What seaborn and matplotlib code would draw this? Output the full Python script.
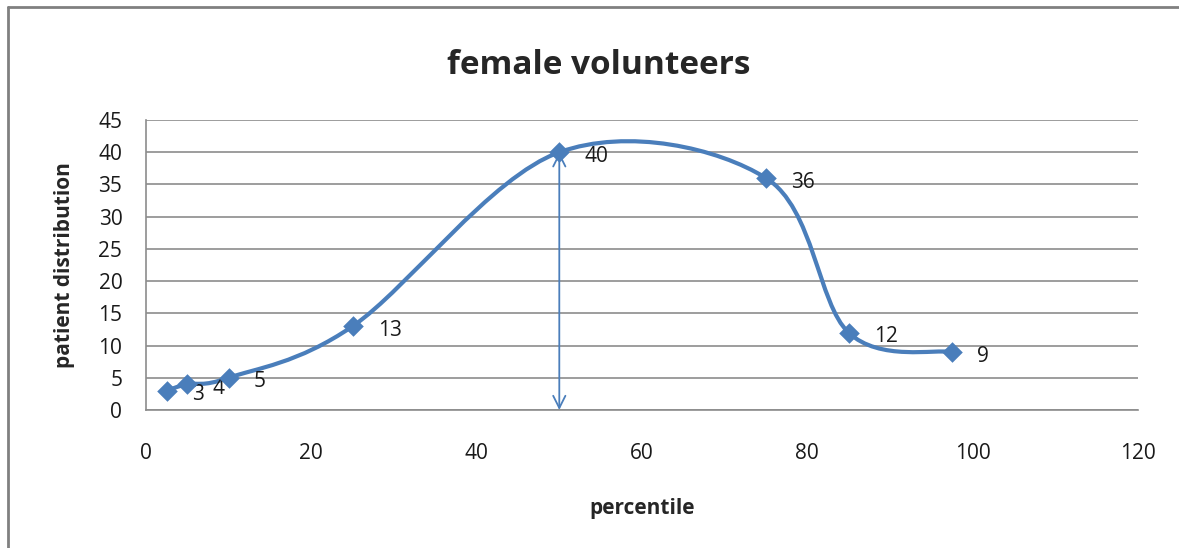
import numpy as np
import pandas as pd
import matplotlib
matplotlib.use("Agg")
import matplotlib.pyplot as plt
from matplotlib.path import Path
from matplotlib.patches import PathPatch
from matplotlib.lines import Line2D
import seaborn as sns

# data
percentile = [2.5, 5, 10, 25, 50, 75, 85, 97.5]
patients = [3, 4, 5, 13, 40, 36, 12, 9]
point_labels = ["3", "4", "5", "13", "40", "36", "12", "9"]
x_ticks = [0, 20, 40, 60, 80, 100, 120]
y_ticks = [0, 5, 10, 15, 20, 25, 30, 35, 40, 45]
median_x = 50

BLUE = "#4a7ebb"
GRID = "#8c8c8c"

sns.set_style("white")
plt.rcParams["font.family"] = ["Open Sans", "DejaVu Sans"]

df = pd.DataFrame({"percentile": percentile, "patients": patients})


def smooth_path(xs, ys):
    """Excel-like smoothed line: cubic Bezier through every point."""
    pts = np.column_stack([xs, ys]).astype(float)
    padded = np.vstack([pts[0], pts, pts[-1]])
    verts = [pts[0]]
    codes = [Path.MOVETO]
    for i in range(1, len(padded) - 2):
        p0, p1, p2, p3 = padded[i - 1], padded[i], padded[i + 1], padded[i + 2]
        c1 = p1 + (p2 - p0) / 6.0
        c2 = p2 - (p3 - p1) / 6.0
        verts += [c1, c2, p2]
        codes += [Path.CURVE4] * 3
    return Path(verts, codes)


fig = plt.figure(figsize=(11.79, 5.48), dpi=100)
ax = fig.add_axes([0.1238, 0.2518, 0.8414, 0.5292])

ax.add_patch(PathPatch(smooth_path(percentile, patients), facecolor="none",
                       edgecolor=BLUE, lw=3, capstyle="round", zorder=3))
sns.scatterplot(data=df, x="percentile", y="patients", marker="D", s=110,
                color=BLUE, edgecolor=BLUE, linewidth=0, ax=ax, zorder=4)

for x, y, lab in zip(percentile, patients, point_labels):
    ax.annotate(lab, (x, y), xytext=(18, -3), textcoords="offset points",
                fontsize=15, va="center", ha="left", color="#1a1a1a")

ax.annotate("", xy=(median_x, 0), xytext=(median_x, 40),
            arrowprops=dict(arrowstyle="<->", color=BLUE, lw=1.3,
                            mutation_scale=22, shrinkA=0, shrinkB=0),
            zorder=5)

ax.set_xlim(0, 120)
ax.set_ylim(0, 45)
ax.set_xticks(x_ticks)
ax.set_yticks(y_ticks)
ax.yaxis.grid(True, color=GRID, lw=1.2)
ax.xaxis.grid(False)
for side in ["top", "right"]:
    ax.spines[side].set_visible(False)
for side in ["left", "bottom"]:
    ax.spines[side].set_color(GRID)
    ax.spines[side].set_linewidth(1.2)
ax.tick_params(axis="x", length=0, pad=24, labelsize=15, labelcolor="#1a1a1a")
ax.tick_params(axis="y", length=0, pad=17, labelsize=15, labelcolor="#1a1a1a")

ax.set_xlabel("percentile", fontsize=15, fontweight="bold", labelpad=24)
ax.set_ylabel("patient distribution", fontsize=15, fontweight="bold", labelpad=17)
fig.text(0.508, 0.88, "female volunteers", fontsize=24, fontweight="bold",
         ha="center", va="center")

# chart-area frame (top and left edges visible)
fig.add_artist(Line2D([8 / 1179, 1], [1 - 7 / 548, 1 - 7 / 548],
                      color="#808080", lw=2, transform=fig.transFigure))
fig.add_artist(Line2D([8 / 1179, 8 / 1179], [0, 1 - 7 / 548],
                      color="#808080", lw=2, transform=fig.transFigure))

fig.savefig("out.png", dpi=100)
